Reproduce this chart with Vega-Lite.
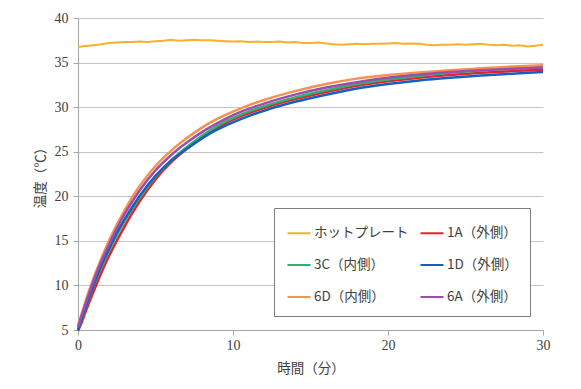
{
"$schema": "https://vega.github.io/schema/vega-lite/v6.json",
"width": 465, "height": 312,
"autosize": {"type": "none"},
"padding": {"left": 78, "top": 18, "right": 38, "bottom": 59},
"background": "white",
"config": {"view": {"stroke": null}, "font": "Noto Sans CJK JP"},
"datasets": {
"hot": [
{"t":0,"v":36.75},{"t":0.5,"v":36.85},{"t":1,"v":36.95},{"t":1.5,"v":37.05},{"t":2,"v":37.2},{"t":2.5,"v":37.25},{"t":3,"v":37.3},{"t":3.5,"v":37.3},{"t":4,"v":37.35},{"t":4.5,"v":37.3},{"t":5,"v":37.4},{"t":5.5,"v":37.45},{"t":6,"v":37.55},{"t":6.5,"v":37.45},{"t":7,"v":37.5},{"t":7.5,"v":37.55},{"t":8,"v":37.5},{"t":8.5,"v":37.5},{"t":9,"v":37.45},{"t":9.5,"v":37.4},{"t":10,"v":37.35},{"t":10.5,"v":37.4},{"t":11,"v":37.3},{"t":11.5,"v":37.35},{"t":12,"v":37.3},{"t":12.5,"v":37.3},{"t":13,"v":37.35},{"t":13.5,"v":37.25},{"t":14,"v":37.3},{"t":14.5,"v":37.2},{"t":15,"v":37.2},{"t":15.5,"v":37.25},{"t":16,"v":37.15},{"t":16.5,"v":37.05},{"t":17,"v":37.0},{"t":17.5,"v":37.05},{"t":18,"v":37.1},{"t":18.5,"v":37.05},{"t":19,"v":37.1},{"t":19.5,"v":37.1},{"t":20,"v":37.15},{"t":20.5,"v":37.2},{"t":21,"v":37.1},{"t":21.5,"v":37.15},{"t":22,"v":37.1},{"t":22.5,"v":37.0},{"t":23,"v":36.95},{"t":23.5,"v":37.0},{"t":24,"v":37.0},{"t":24.5,"v":37.05},{"t":25,"v":37.0},{"t":25.5,"v":37.05},{"t":26,"v":37.1},{"t":26.5,"v":37.0},{"t":27,"v":36.95},{"t":27.5,"v":37.0},{"t":28,"v":36.9},{"t":28.5,"v":36.95},{"t":29,"v":36.8},{"t":29.5,"v":36.9},{"t":30,"v":37.0}
],
"samples": [
{"t":0,"a1":4.9,"c3":5.0,"d1":5.0,"d6":5.5,"a6":5.3},
{"t":0.25,"a1":5.9,"c3":6.2,"d1":6.3,"d6":6.9,"a6":6.7},
{"t":0.5,"a1":7.1,"c3":7.5,"d1":7.6,"d6":8.3,"a6":8.0},
{"t":1,"a1":9.3,"c3":9.9,"d1":10.0,"d6":10.8,"a6":10.5},
{"t":1.5,"a1":11.4,"c3":12.0,"d1":12.2,"d6":13.0,"a6":12.7},
{"t":2,"a1":13.3,"c3":13.9,"d1":14.1,"d6":15.0,"a6":14.6},
{"t":2.5,"a1":15.0,"c3":15.6,"d1":15.9,"d6":16.8,"a6":16.4},
{"t":3,"a1":16.6,"c3":17.2,"d1":17.4,"d6":18.4,"a6":18.0},
{"t":3.5,"a1":18.1,"c3":18.6,"d1":18.8,"d6":19.9,"a6":19.4},
{"t":4,"a1":19.5,"c3":19.9,"d1":20.1,"d6":21.2,"a6":20.7},
{"t":5,"a1":21.9,"c3":22.2,"d1":22.3,"d6":23.4,"a6":22.9},
{"t":6,"a1":23.8,"c3":24.0,"d1":24.0,"d6":25.1,"a6":24.6},
{"t":7,"a1":25.3,"c3":25.5,"d1":25.3,"d6":26.5,"a6":26.0},
{"t":8,"a1":26.6,"c3":26.8,"d1":26.5,"d6":27.7,"a6":27.2},
{"t":9,"a1":27.7,"c3":27.9,"d1":27.5,"d6":28.7,"a6":28.2},
{"t":10,"a1":28.6,"c3":28.8,"d1":28.3,"d6":29.5,"a6":29.1},
{"t":11,"a1":29.3,"c3":29.5,"d1":29.0,"d6":30.2,"a6":29.8},
{"t":12,"a1":29.9,"c3":30.1,"d1":29.6,"d6":30.8,"a6":30.4},
{"t":14,"a1":30.9,"c3":31.1,"d1":30.6,"d6":31.8,"a6":31.4},
{"t":16,"a1":31.7,"c3":31.9,"d1":31.4,"d6":32.6,"a6":32.2},
{"t":18,"a1":32.4,"c3":32.6,"d1":32.1,"d6":33.2,"a6":32.8},
{"t":20,"a1":32.9,"c3":33.1,"d1":32.6,"d6":33.6,"a6":33.3},
{"t":22,"a1":33.3,"c3":33.5,"d1":33.0,"d6":33.9,"a6":33.65},
{"t":24,"a1":33.6,"c3":33.85,"d1":33.3,"d6":34.15,"a6":33.95},
{"t":26,"a1":33.85,"c3":34.1,"d1":33.55,"d6":34.35,"a6":34.15},
{"t":28,"a1":34.05,"c3":34.3,"d1":33.75,"d6":34.55,"a6":34.3},
{"t":30,"a1":34.2,"c3":34.5,"d1":33.95,"d6":34.7,"a6":34.45}
]
},
"encoding": {
  "x": {"field": "t", "type": "quantitative", "scale": {"domain": [0, 30], "nice": false},
    "axis": {"values": [0, 10, 20, 30], "title": "時間（分）", "grid": false, "domainColor": "#a6a6a6", "tickColor": "#a6a6a6", "tickSize": 5,
      "labelFont": "Liberation Serif", "labelFontSize": 14, "labelColor": "#404040", "labelPadding": 3, "labelFlush": false,
      "titleFont": "Noto Sans CJK JP", "titleFontSize": 13.5, "titleFontWeight": "normal", "titleColor": "#404040", "titlePadding": 9}},
  "y": {"field": "v", "type": "quantitative", "scale": {"domain": [5, 40], "nice": false, "zero": false},
    "axis": {"values": [5, 10, 15, 20, 25, 30, 35, 40], "title": "温度（℃）", "gridColor": "#c4c4c4", "domainColor": "#a6a6a6", "tickColor": "#a6a6a6", "tickSize": 5,
      "labelFont": "Liberation Serif", "labelFontSize": 14, "labelColor": "#404040", "labelPadding": 5, "labelFlush": false,
      "titleFont": "Noto Sans CJK JP", "titleFontSize": 13.5, "titleFontWeight": "normal", "titleColor": "#404040", "titlePadding": 7}},
  "color": {"field": "s", "type": "nominal",
    "scale": {"domain": ["ホットプレート", "3C（内側）", "6D（内側）", "1A（外側）", "1D（外側）", "6A（外側）"],
              "range": ["#F5B22A", "#2DB36E", "#F7914E", "#E8202E", "#1560BD", "#9C4DAE"]},
    "legend": {"title": null, "orient": "none", "legendX": 196, "legendY": 190, "columns": 2, "symbolType": "stroke", "symbolSize": 530, "symbolStrokeWidth": 2,
      "labelFont": "Noto Sans CJK JP", "labelFontSize": 13.5, "labelColor": "#404040", "labelOffset": 2, "labelLimit": 200,
      "columnPadding": 7, "rowPadding": 12, "padding": 12, "strokeColor": "#7f7f7f", "fillColor": "white"}}
},
"layer": [
  {"data": {"name": "hot"}, "transform": [{"calculate": "'ホットプレート'", "as": "s"}],
   "mark": {"type": "line", "strokeWidth": 2}},
  {"data": {"name": "samples"},
   "transform": [{"fold": ["a1", "c3", "d1", "d6", "a6"], "as": ["k", "v"]},
     {"lookup": "k", "from": {"data": {"values": [{"k": "a1", "s": "1A（外側）"}, {"k": "c3", "s": "3C（内側）"}, {"k": "d1", "s": "1D（外側）"}, {"k": "d6", "s": "6D（内側）"}, {"k": "a6", "s": "6A（外側）"}]}, "key": "k", "fields": ["s"]}}],
   "mark": {"type": "line", "interpolate": "monotone", "strokeWidth": 2.5}}
]
}
